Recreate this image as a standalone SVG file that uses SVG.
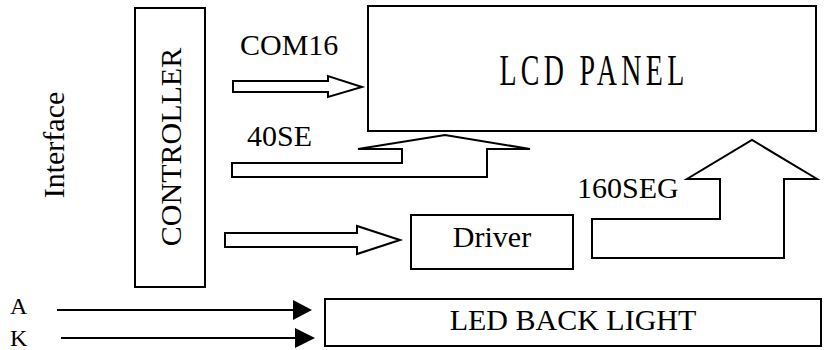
<svg xmlns="http://www.w3.org/2000/svg" width="826" height="350" viewBox="0 0 826 350">
<style>
.box{fill:#fff;stroke:#000;stroke-width:2}
.arr{fill:#fff;stroke:#000;stroke-width:2;stroke-linejoin:miter}
.ln{stroke:#000;stroke-width:2;fill:none}
.lbl{font-family:'Liberation Serif',serif;font-size:30px;fill:#000}
.lbl-sm{font-family:'Liberation Serif',serif;font-size:24px;fill:#000}
.lbl-lcd{font-family:'Liberation Serif',serif;font-size:45px;letter-spacing:7px;fill:#000}
</style>
<rect width="826" height="350" fill="#fff"/>
<text class="lbl" transform="translate(64,145) rotate(-90)" text-anchor="middle">Interface</text>
<g id="controller">
<rect class="box" x="135" y="8" width="70" height="279"/>
<text class="lbl" transform="translate(181,147) rotate(-90)" text-anchor="middle">CONTROLLER</text>
</g>
<g id="lcd-panel">
<rect class="box" x="368" y="6" width="448" height="125"/>
<text class="lbl-lcd" transform="translate(594,85) scale(0.62,1)" text-anchor="middle">LCD PANEL</text>
</g>
<g id="driver">
<rect class="box" x="411" y="215" width="162" height="54"/>
<text class="lbl" x="492" y="247" text-anchor="middle">Driver</text>
</g>
<g id="led-back-light">
<rect class="box" x="325" y="299" width="496" height="47"/>
<text class="lbl" x="573" y="330" text-anchor="middle">LED BACK LIGHT</text>
</g>
<g id="connectors">
<polygon class="arr" points="233,81 328,81 328,76 362,87 328,97 328,92 233,92"/>
<text class="lbl" x="240" y="55">COM16</text>
<polygon class="arr" points="232,163 402,163 402,149 358,149 445,135 530,149 487,149 487,177 232,177"/>
<text class="lbl" x="247" y="146">40SE</text>
<polygon class="arr" points="225,233 357,233 357,226 400,240 357,254 357,247 225,247"/>
<polygon class="arr" points="592,219 720,219 720,179 687,179 752,140 817,179 784,179 784,258 592,258"/>
<text class="lbl" x="577" y="198">160SEG</text>
<text class="lbl-sm" x="10" y="314">A</text>
<text class="lbl-sm" x="10" y="346">K</text>
<line class="ln" x1="57" y1="310" x2="293" y2="310"/>
<polygon points="293,300 312,310 293,320" fill="#000"/>
<line class="ln" x1="61" y1="338" x2="295" y2="338"/>
<polygon points="295,328 315,338 295,348" fill="#000"/>
</g>
</svg>
